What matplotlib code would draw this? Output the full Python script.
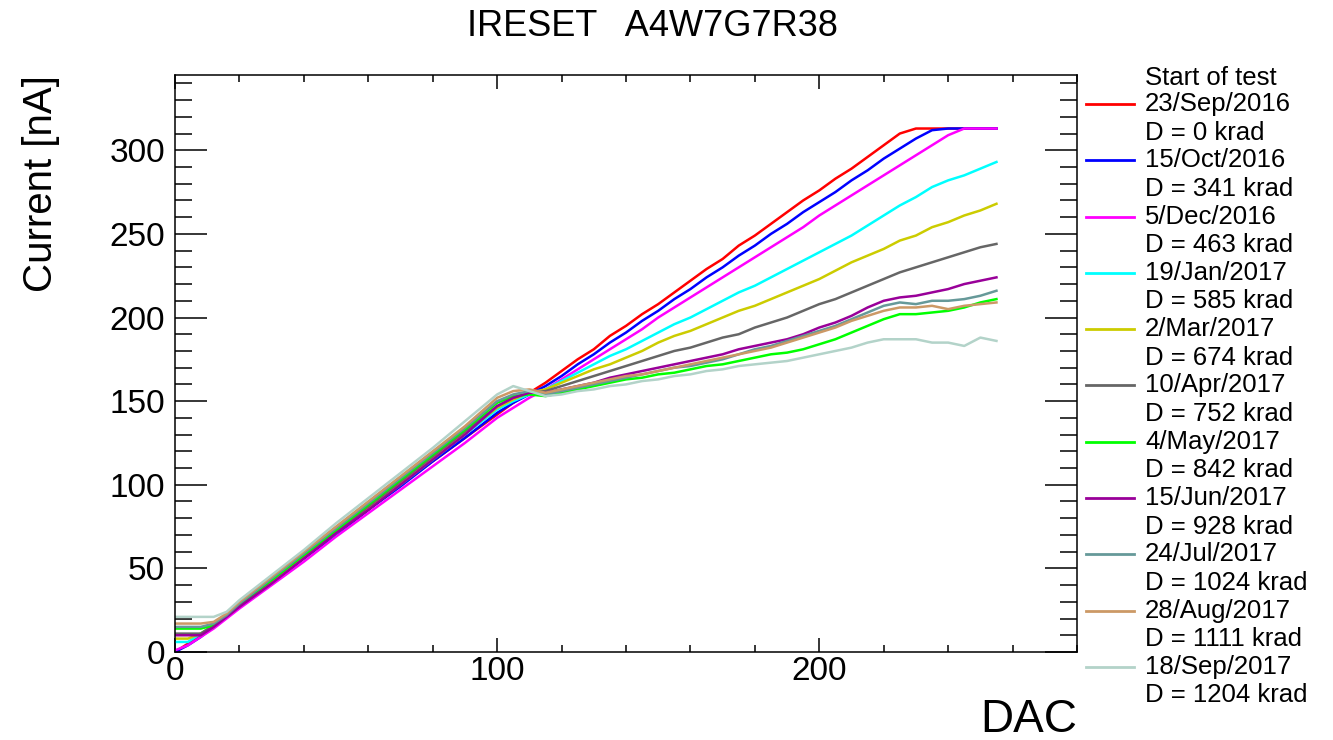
import matplotlib
matplotlib.use("Agg")
import matplotlib.pyplot as plt
from matplotlib.lines import Line2D
from matplotlib.ticker import MultipleLocator

plt.rcParams['font.family'] = ['Liberation Sans', 'DejaVu Sans']

# DAC settings shared by all the scans
dac = [0, 4, 8, 12, 16, 20, 30, 40, 50, 60, 70, 80, 90, 100,
       105, 110, 115, 120, 125, 130, 135, 140, 145, 150, 155, 160, 165, 170, 175,
       180, 185, 190, 195, 200, 205, 210, 215, 220, 225, 230, 235, 240, 245, 250, 255]

# measured current [nA], one list per scan
i_sep16 = [0, 5, 10, 16, 22, 28, 42, 56, 71, 85, 100, 114, 128, 142,
           149, 155, 161, 168, 175, 181, 189, 195, 202, 208, 215, 222, 229, 235, 243,
           249, 256, 263, 270, 276, 283, 289, 296, 303, 310, 313, 313, 313, 313, 313, 313]
i_oct16 = [0, 4, 9, 15, 21, 27, 41, 56, 70, 85, 99, 114, 128, 143,
           149, 154, 159, 165, 172, 178, 185, 191, 198, 204, 211, 217, 224, 230, 237,
           243, 250, 256, 263, 269, 275, 282, 288, 295, 301, 307, 312, 313, 313, 313, 313]
i_dec16 = [1, 4, 9, 14, 20, 26, 40, 54, 69, 83, 97, 111, 125, 140,
           146, 152, 157, 163, 169, 175, 181, 187, 193, 200, 206, 212, 218, 224, 230,
           236, 242, 248, 254, 261, 267, 273, 279, 285, 291, 297, 303, 309, 313, 313, 313]
i_jan17 = [6, 6, 11, 16, 22, 28, 42, 57, 71, 86, 100, 115, 130, 145,
           150, 154, 157, 162, 167, 172, 177, 181, 186, 191, 196, 200, 205, 210, 215,
           219, 224, 229, 234, 239, 244, 249, 255, 261, 267, 272, 278, 282, 285, 289, 293]
i_mar17 = [8, 8, 11, 16, 22, 28, 42, 57, 72, 86, 101, 116, 131, 146,
           151, 155, 157, 161, 165, 169, 172, 176, 180, 185, 189, 192, 196, 200, 204,
           207, 211, 215, 219, 223, 228, 233, 237, 241, 246, 249, 254, 257, 261, 264, 268]
i_apr17 = [11, 11, 11, 16, 22, 28, 43, 58, 72, 87, 102, 117, 132, 147,
           152, 155, 156, 159, 162, 165, 168, 171, 174, 177, 180, 182, 185, 188, 190,
           194, 197, 200, 204, 208, 211, 215, 219, 223, 227, 230, 233, 236, 239, 242, 244]
i_may17 = [14, 14, 14, 16, 22, 29, 43, 58, 73, 88, 103, 118, 133, 149,
           153, 154, 153, 155, 157, 159, 161, 163, 164, 166, 167, 169, 171, 172, 174,
           176, 178, 179, 181, 184, 187, 191, 195, 199, 202, 202, 203, 204, 206, 209, 211]
i_jun17 = [10, 10, 10, 15, 21, 27, 41, 56, 71, 85, 100, 115, 130, 147,
           152, 155, 155, 157, 159, 161, 164, 166, 168, 170, 172, 174, 176, 178, 181,
           183, 185, 187, 190, 194, 197, 201, 206, 210, 212, 213, 215, 217, 220, 222, 224]
i_jul17 = [15, 15, 15, 17, 22, 29, 44, 59, 74, 89, 104, 119, 134, 150,
           154, 156, 154, 156, 158, 160, 162, 164, 166, 168, 170, 171, 173, 175, 178,
           181, 183, 186, 189, 192, 195, 199, 203, 207, 209, 208, 210, 210, 211, 213, 216]
i_aug17 = [17, 17, 17, 18, 23, 30, 45, 60, 75, 90, 105, 120, 135, 152,
           156, 157, 155, 157, 159, 161, 163, 165, 166, 168, 170, 172, 174, 176, 178,
           180, 182, 185, 188, 191, 194, 198, 201, 204, 206, 206, 207, 205, 207, 208, 209]
i_sep17 = [21, 21, 21, 21, 24, 31, 46, 61, 77, 92, 107, 122, 138, 154,
           159, 156, 153, 154, 156, 157, 159, 160, 162, 163, 165, 166, 168, 169, 171,
           172, 173, 174, 176, 178, 180, 182, 185, 187, 187, 187, 185, 185, 183, 188, 186]

currents = [i_sep16, i_oct16, i_dec16, i_jan17, i_mar17, i_apr17,
            i_may17, i_jun17, i_jul17, i_aug17, i_sep17]
dates = ['23/Sep/2016', '15/Oct/2016', '5/Dec/2016', '19/Jan/2017', '2/Mar/2017',
         '10/Apr/2017', '4/May/2017', '15/Jun/2017', '24/Jul/2017', '28/Aug/2017',
         '18/Sep/2017']
doses = [0, 341, 463, 585, 674, 752, 842, 928, 1024, 1111, 1204]
colors = ['#ff0000', '#0000ff', '#ff00ff', '#00ffff', '#cccc00', '#666666',
          '#00ff00', '#990099', '#669999', '#cc9966', '#b3d3c9']

W, H = 1333, 740
fig = plt.figure(figsize=(W / 100, H / 100), dpi=100)
ax = fig.add_axes([175 / W, 1 - 652 / H, 902 / W, 577 / H])

for cur, col in zip(currents, colors):
    ax.plot(dac, cur, color=col, lw=1.8)

ax.set_xlim(0, 280)
ax.set_ylim(0, 345)
ax.xaxis.set_major_locator(MultipleLocator(100))
ax.xaxis.set_minor_locator(MultipleLocator(20))
ax.yaxis.set_major_locator(MultipleLocator(50))
ax.yaxis.set_minor_locator(MultipleLocator(10))

ax.tick_params(which='both', direction='in', top=True, right=True, width=1.1)
ax.tick_params(axis='x', which='major', length=10, labelsize=24, pad=3)
ax.tick_params(axis='x', which='minor', length=5)
ax.tick_params(axis='y', which='major', length=23, labelsize=24, pad=7)
ax.tick_params(axis='y', which='minor', length=12)
for s in ax.spines.values():
    s.set_linewidth(1.1)

ax.set_xlabel('DAC', fontsize=33, loc='right')
ax.xaxis.set_label_coords(1.0, -0.08)
ax.set_ylabel('Current [nA]', fontsize=29, loc='top')
ax.yaxis.set_label_coords(-0.128, 1.0)

fig.text(652 / W, 1 - 26 / H, 'IRESET   A4W7G7R38', fontsize=26, ha='center', va='center')

# legend on the right, drawn by hand like the ROOT one
fig.text(1145 / W, 1 - 78 / H, 'Start of test', fontsize=18.5, va='center')
for k, (d, dose, col) in enumerate(zip(dates, doses, colors)):
    y0 = 104 + 56.3 * k
    fig.add_artist(Line2D([1086 / W, 1134 / W], [1 - y0 / H, 1 - y0 / H], color=col, lw=2))
    fig.text(1145 / W, 1 - y0 / H, d, fontsize=18.5, va='center')
    fig.text(1145 / W, 1 - (y0 + 28.5) / H, 'D = %d krad' % dose, fontsize=18.5, va='center')

fig.savefig('out.png', dpi=100)
